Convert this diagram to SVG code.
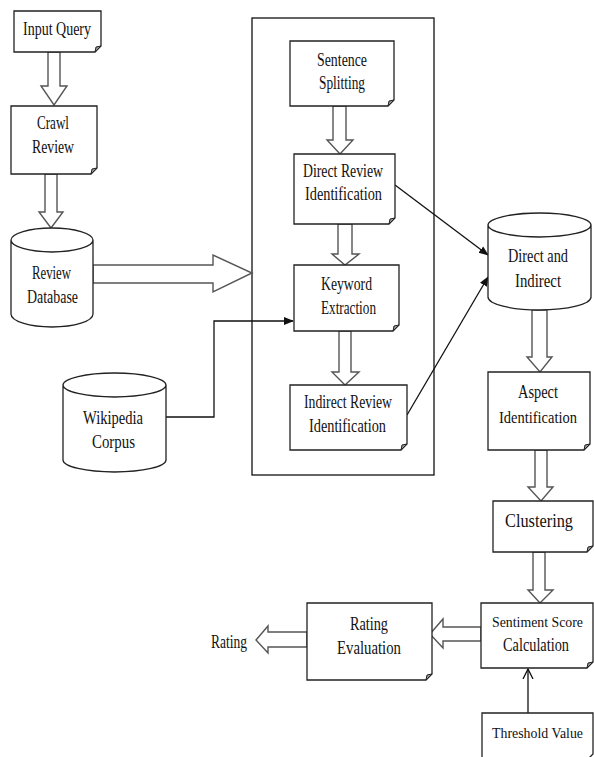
<svg xmlns="http://www.w3.org/2000/svg" width="594" height="757" viewBox="0 0 594 757">
<style>
.box{fill:#fff;stroke:#222;stroke-width:1.3}
.fold{fill:#999;stroke:#222;stroke-width:1}
.cyl{fill:#fff;stroke:#222;stroke-width:1.3}
.blk{fill:#fff;stroke:#555;stroke-width:1.4;stroke-linejoin:miter}
.ln{fill:none;stroke:#111;stroke-width:1.3}
text{font-family:"Liberation Serif","Times New Roman",serif;font-size:18px;fill:#111}
text.sm{font-size:15px}
text.md{font-size:17px}
</style>
<defs>
<marker id="fa" markerWidth="10" markerHeight="10" refX="9" refY="5" orient="auto" markerUnits="userSpaceOnUse">
<path d="M0,1 L10,5 L0,9 Z" fill="#111"/>
</marker>
<marker id="oa" markerWidth="12" markerHeight="12" refX="10" refY="6" orient="auto" markerUnits="userSpaceOnUse">
<path d="M0,1 L10,6 L0,11" fill="none" stroke="#111" stroke-width="1.3"/>
</marker>
</defs>
<rect id="container" x="252" y="18" width="182" height="457" fill="none" stroke="#111" stroke-width="1.3"/>
<g id="connectors">
<polygon class="blk" points="48,52 60,52 60,86 67,86 54,105 41,86 48,86"/>
<polygon class="blk" points="45,174 57,174 57,212 63,212 51,228 39,212 45,212"/>
<polygon class="blk" points="93,265 213,265 213,255 252,273 213,292 213,283 93,283"/>
<polygon class="blk" points="333,106 346,106 346,140 353,140 340,154 327,140 333,140"/>
<polygon class="blk" points="338,224 352,224 352,254 359,254 345,265 332,254 338,254"/>
<polygon class="blk" points="339,331 351,331 351,372 359,372 345,385 332,372 339,372"/>
<polygon class="blk" points="532,310 547,310 547,357 552,357 540,372 527,357 532,357"/>
<polygon class="blk" points="535,450 547,450 547,487 553,487 541,501 528,487 535,487"/>
<polygon class="blk" points="533,552 545,552 545,590 553,590 540,603 528,590 533,590"/>
<polygon class="blk" points="481,627 443,627 443,619 430,634 443,648 443,641 481,641"/>
<polygon class="blk" points="307,632 268,632 268,626 256,640 268,653 268,647 307,647"/>
<polyline class="ln" points="166,417 214,417 214,321 293,321" marker-end="url(#fa)"/>
<line class="ln" x1="395" y1="185" x2="488" y2="255" marker-end="url(#fa)"/>
<line class="ln" x1="407" y1="415" x2="488" y2="277" marker-end="url(#fa)"/>
<line class="ln" x1="528" y1="713" x2="528" y2="669" marker-end="url(#oa)"/>
</g>
<g id="input-query">
<path class="box" d="M14,11 H101 V46 L95,52 H14 Z"/><path class="fold" d="M95,52 L96,47 L101,46 Z"/>
<text x="23" y="35" textLength="68" lengthAdjust="spacingAndGlyphs">Input Query</text>
</g>
<g id="crawl-review">
<path class="box" d="M11,106 H97 V168 L91,174 H11 Z"/><path class="fold" d="M91,174 L92,169 L97,168 Z"/>
<text x="37" y="129" textLength="32" lengthAdjust="spacingAndGlyphs">Crawl</text>
<text x="32" y="153" textLength="42" lengthAdjust="spacingAndGlyphs">Review</text>
</g>
<g id="review-database">
<path class="cyl" d="M11,240 V314 A41,13 0 0 0 93,314 V240 A41,12 0 0 0 11,240 A41,12 0 0 0 93,240"/>
<text x="32" y="279" textLength="39" lengthAdjust="spacingAndGlyphs">Review</text>
<text x="27" y="303" textLength="51" lengthAdjust="spacingAndGlyphs">Database</text>
</g>
<g id="wikipedia-corpus">
<path class="cyl" d="M63,385 V460 A51.5,12 0 0 0 166,460 V385 A51.5,12 0 0 0 63,385 A51.5,12 0 0 0 166,385"/>
<text x="83" y="424" textLength="60" lengthAdjust="spacingAndGlyphs">Wikipedia</text>
<text x="92" y="448" textLength="43" lengthAdjust="spacingAndGlyphs">Corpus</text>
</g>
<g id="sentence-splitting">
<path class="box" d="M290,41 H394 V100 L388,106 H290 Z"/><path class="fold" d="M388,106 L389,101 L394,100 Z"/>
<text x="317" y="66" textLength="50" lengthAdjust="spacingAndGlyphs">Sentence</text>
<text x="319" y="89" textLength="46" lengthAdjust="spacingAndGlyphs">Splitting</text>
</g>
<g id="direct-review">
<path class="box" d="M294,154 H395 V218 L389,224 H294 Z"/><path class="fold" d="M389,224 L390,219 L395,218 Z"/>
<text x="303" y="177" textLength="80" lengthAdjust="spacingAndGlyphs">Direct Review</text>
<text x="305" y="200" textLength="77" lengthAdjust="spacingAndGlyphs">Identification</text>
</g>
<g id="keyword-extraction">
<path class="box" d="M294,265 H399 V325 L393,331 H294 Z"/><path class="fold" d="M393,331 L394,326 L399,325 Z"/>
<text x="321" y="290" textLength="51" lengthAdjust="spacingAndGlyphs">Keyword</text>
<text x="321" y="314" textLength="55" lengthAdjust="spacingAndGlyphs">Extraction</text>
</g>
<g id="indirect-review">
<path class="box" d="M290,385 H407 V444 L401,450 H290 Z"/><path class="fold" d="M401,450 L402,445 L407,444 Z"/>
<text x="304" y="408" textLength="88" lengthAdjust="spacingAndGlyphs">Indirect Review</text>
<text x="309" y="432" textLength="77" lengthAdjust="spacingAndGlyphs">Identification</text>
</g>
<g id="direct-and-indirect">
<path class="cyl" d="M488,225 V297 A51.5,13 0 0 0 591,297 V225 A51.5,12 0 0 0 488,225 A51.5,12 0 0 0 591,225"/>
<text x="508" y="262" textLength="60" lengthAdjust="spacingAndGlyphs">Direct and</text>
<text x="515" y="287" textLength="46" lengthAdjust="spacingAndGlyphs">Indirect</text>
</g>
<g id="aspect-identification">
<path class="box" d="M488,372 H590 V444 L584,450 H488 Z"/><path class="fold" d="M584,450 L585,445 L590,444 Z"/>
<text x="518" y="398" textLength="40" lengthAdjust="spacingAndGlyphs">Aspect</text>
<text class="md" x="499" y="423" textLength="78" lengthAdjust="spacingAndGlyphs">Identification</text>
</g>
<g id="clustering">
<path class="box" d="M493,501 H593 V546 L587,552 H493 Z"/><path class="fold" d="M587,552 L588,547 L593,546 Z"/>
<text x="505" y="527" textLength="68" lengthAdjust="spacingAndGlyphs">Clustering</text>
</g>
<g id="sentiment-score">
<path class="box" d="M481,603 H593 V662 L587,668 H481 Z"/><path class="fold" d="M587,668 L588,663 L593,662 Z"/>
<text class="sm" x="492" y="627" textLength="91" lengthAdjust="spacingAndGlyphs">Sentiment Score</text>
<text x="503" y="651" textLength="66" lengthAdjust="spacingAndGlyphs">Calculation</text>
</g>
<g id="rating-evaluation">
<path class="box" d="M307,603 H432 V674 L426,680 H307 Z"/><path class="fold" d="M426,680 L427,675 L432,674 Z"/>
<text x="350" y="630" textLength="38" lengthAdjust="spacingAndGlyphs">Rating</text>
<text x="337" y="654" textLength="64" lengthAdjust="spacingAndGlyphs">Evaluation</text>
</g>
<g id="rating">
<text x="211" y="648" textLength="36" lengthAdjust="spacingAndGlyphs">Rating</text>
</g>
<g id="threshold-value">
<path class="box" d="M482,713 H593 V754 L587,760 H482 Z"/>
<text class="sm" x="492" y="738" textLength="91" lengthAdjust="spacingAndGlyphs">Threshold Value</text>
</g>
</svg>
